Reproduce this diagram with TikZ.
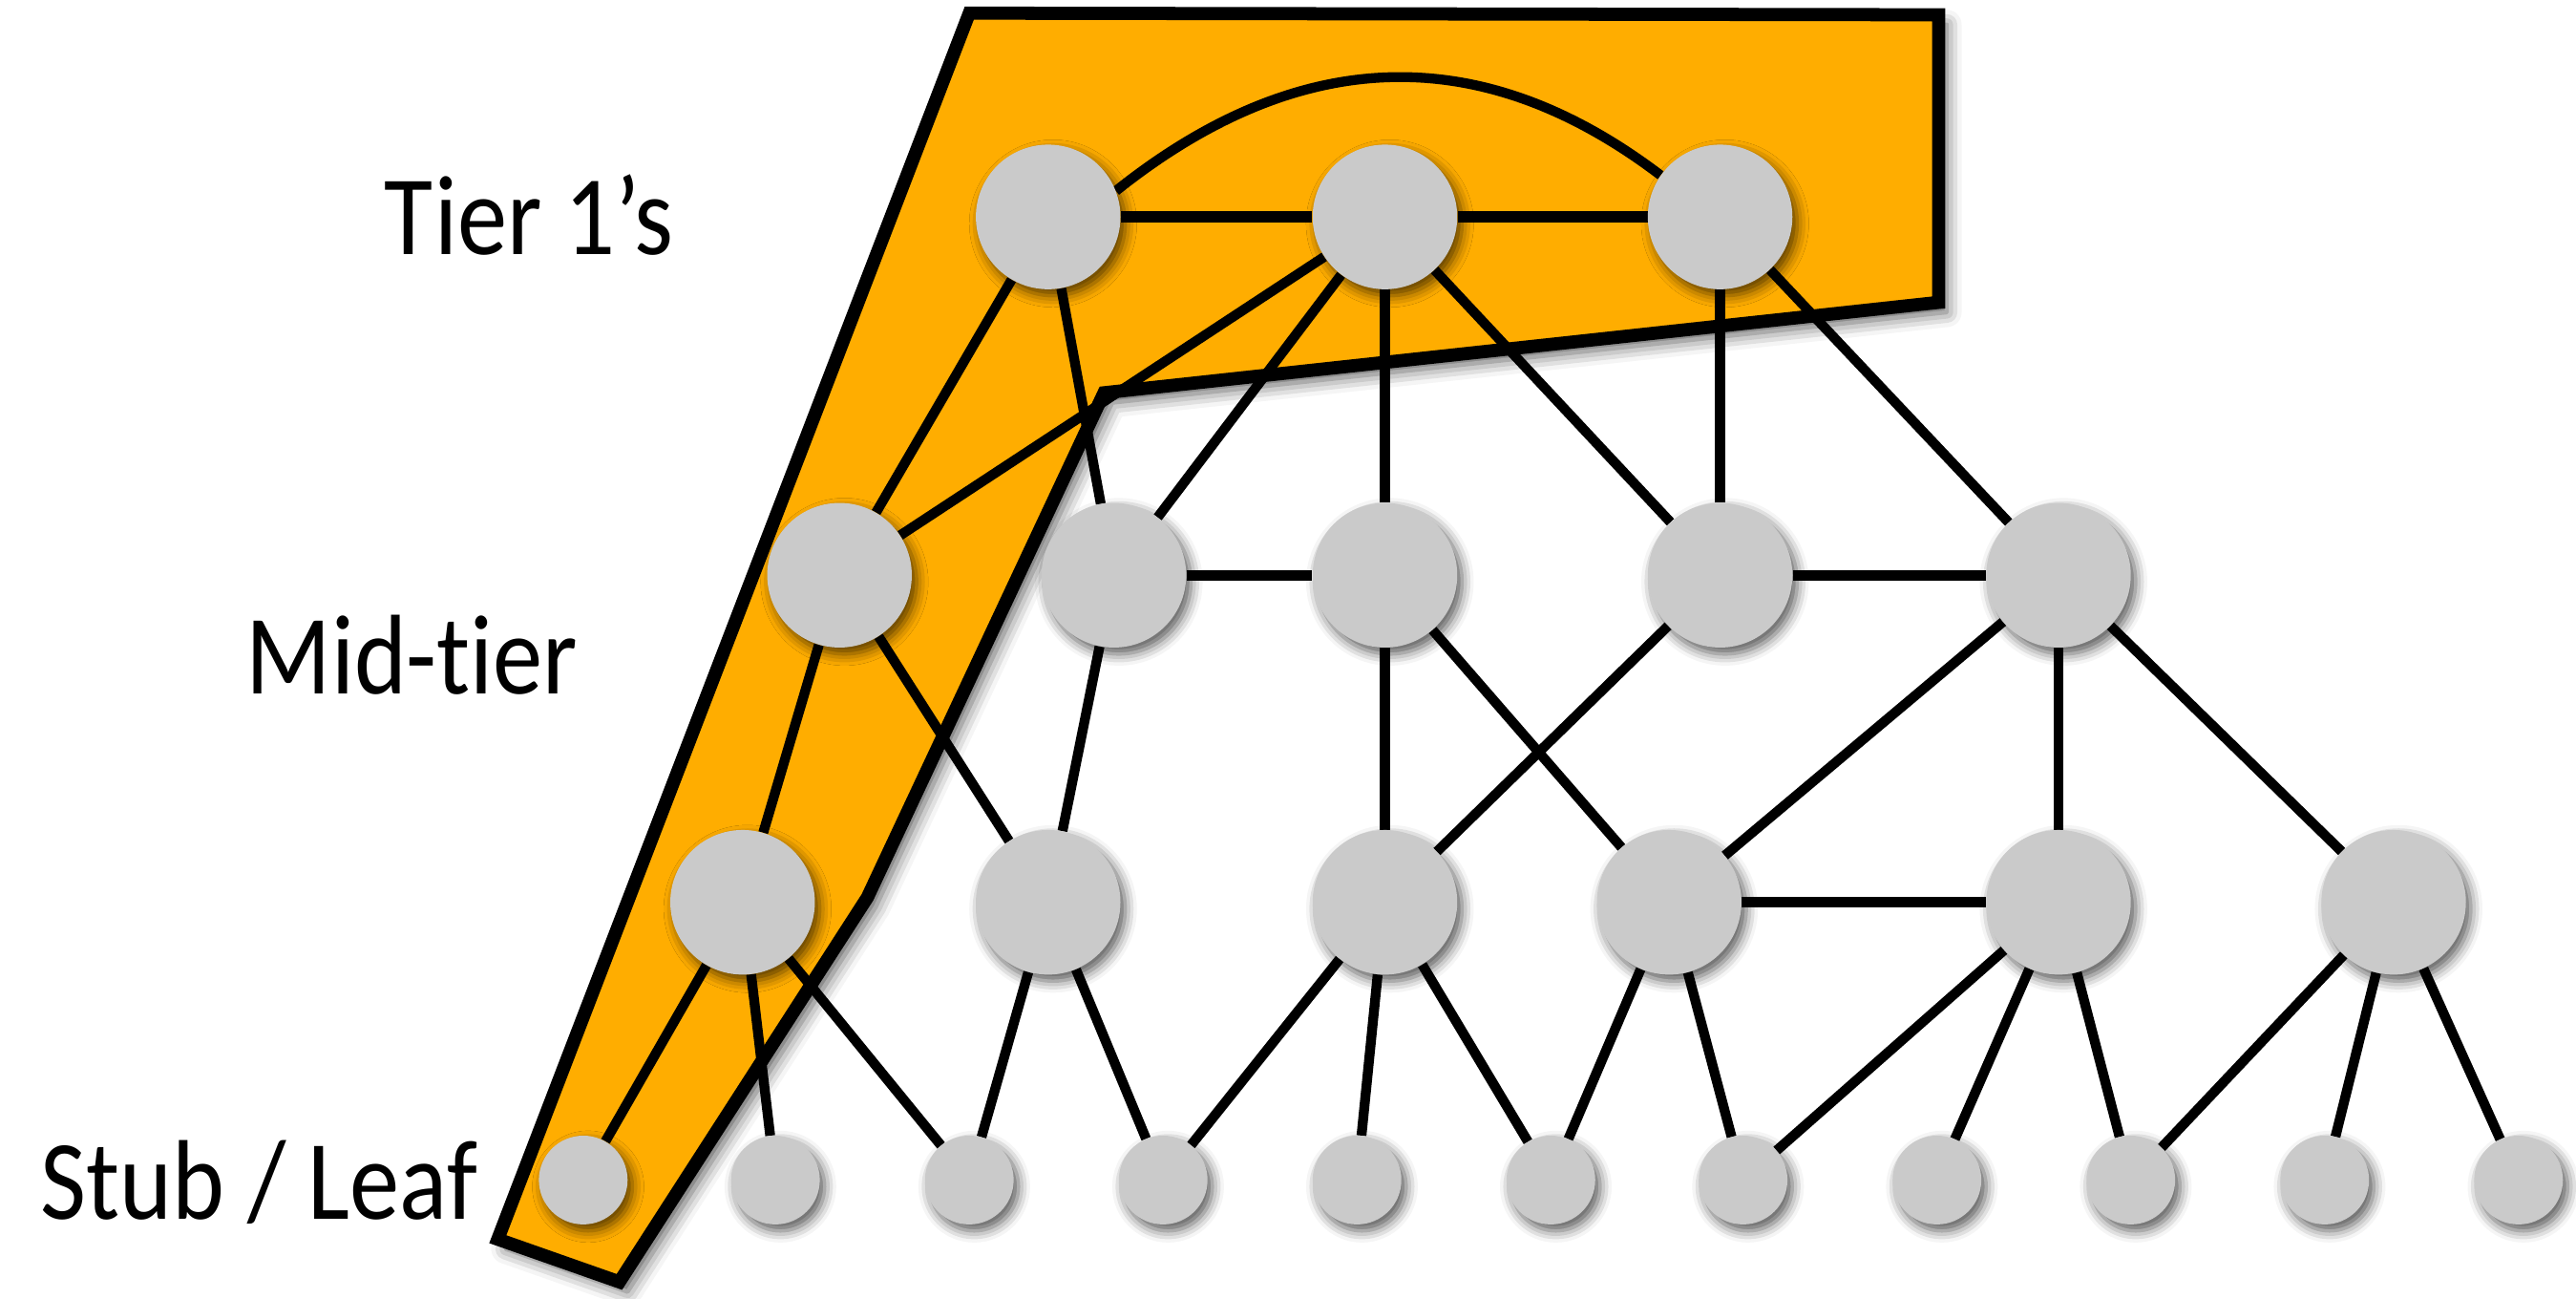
\documentclass[tikz,border=0pt]{standalone}
\usepackage{fontspec}
\setmainfont{Carlito}[FakeStretch=0.88, Ligatures=NoCommon]
\usetikzlibrary{shadows.blur}
\definecolor{hubor}{HTML}{FFAD00}
\definecolor{nodegray}{HTML}{CACACA}
\begin{document}
\begin{tikzpicture}[x=1pt,y=-1pt,
  softshadow/.style={blur shadow={shadow xshift=3pt, shadow yshift=-4pt, shadow blur radius=7pt, shadow opacity=65}},
  slot/.style={circle, minimum size=88pt, inner sep=0pt},
  leafslot/.style={circle, minimum size=54pt, inner sep=0pt},
  disc/.style={fill=nodegray, softshadow},
  link/.style={line width=6pt},
  hlink/.style={line width=6.6pt},
  lab/.style={font=\fontsize{69}{72}\selectfont, anchor=base east, inner sep=0pt}
]
\useasboundingbox (0,0) rectangle (1568,790);

% orange region
\path[fill=hubor, draw=black, line width=8pt, line join=miter,
  blur shadow={shadow xshift=5pt, shadow yshift=-6pt, shadow blur radius=9pt, shadow opacity=65}]
  (590,8) -- (1180,9) -- (1180,184) -- (672,239) -- (528,546) -- (377,780) -- (303,754) -- cycle;

% labels
\node[lab] (tier1) at (410,155) {T\kern1pt ier 1’s};
\node[lab] (mid) at (352,422) {Mid-tier};
\node[lab] (stub) at (291,742) {Stub / Leaf};

% nodes (named positions)
\node[slot] (T1) at (638,132) {};
\node[slot] (T2) at (843,132) {};
\node[slot] (T3) at (1047,132) {};

\node[slot] (M1) at (511,350) {};
\node[slot] (M2) at (678,350) {};
\node[slot] (M3) at (843,350) {};
\node[slot] (M4) at (1047,350) {};
\node[slot] (M5) at (1253,350) {};

\node[slot] (R1) at (452,549) {};
\node[slot] (R2) at (638,549) {};
\node[slot] (R3) at (843,549) {};
\node[slot] (R4) at (1016,549) {};
\node[slot] (R5) at (1253,549) {};
\node[slot] (R6) at (1457,549) {};

\foreach \n/\x in {L1/355,L2/472,L3/590,L4/708,L5/826,L6/944,L7/1061,L8/1179,L9/1297,L10/1415,L11/1533}
  \node[leafslot] (\n) at (\x,718) {};

% edges
\draw[hlink] (T1) -- (T2);
\draw[hlink] (T2) -- (T3);
\draw[link] (T1.21) .. controls (791,27) and (902,24) .. (T3.145);
\foreach \a/\b in {T1/M1,T1/M2,T2/M1,T2/M2,T2/M3,T2/M4,T3/M4,T3/M5,
  M1/R1,M1/R2,M2/R2,M3/R3,M3/R4,M4/R3,M5/R4,M5/R5,M5/R6,
  R1/L1,R1/L2,R1/L3,R2/L3,R2/L4,R3/L4,R3/L5,R3/L6,R4/L6,R4/L7,
  R5/L7,R5/L8,R5/L9,R6/L9,R6/L10,R6/L11}
  \draw[link] (\a) -- (\b);
\draw[hlink] (M2) -- (M3);
\draw[hlink] (M4) -- (M5);
\draw[hlink] (R4) -- (R5);

% node discs
\foreach \n in {T1,T2,T3,M1,M2,M3,M4,M5,R1,R2,R3,R4,R5,R6}
  \path[disc] (\n.center) circle (44pt);
\foreach \n in {L1,L2,L3,L4,L5,L6,L7,L8,L9,L10,L11}
  \path[disc] (\n.center) circle (27pt);
\end{tikzpicture}
\end{document}
